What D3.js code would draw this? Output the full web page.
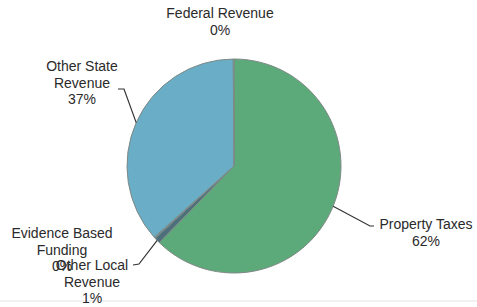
<!DOCTYPE html>
<html>
<head>
<meta charset="utf-8">
<script src="https://cdn.jsdelivr.net/npm/d3@7"></script>
<style>
body { margin: 0; background: #fff; }
text { font-family: "Liberation Sans", Arial, sans-serif; font-size: 14px; fill: #2a2a2a; }
</style>
</head>
<body>
<div id="chartWrapper"></div>
<script>
// slices, clockwise from 12 o'clock
var categories = ["Property Taxes", "Other Local Revenue", "Evidence Based Funding", "Other State Revenue", "Federal Revenue"];
var values = [62.3, 0.9, 0.2, 36.5, 0.1];
var colors = ["#5caa7a", "#4d6f7c", "#5d8fa0", "#69adc6", "#6aa8a0"];

// label lines and anchor positions for each slice label
var labelLines = [
    ["Property Taxes"],
    ["Other Local", "Revenue"],
    ["Evidence Based", "Funding"],
    ["Other State", "Revenue"],
    ["Federal Revenue"]
];
var labelPos = [[426, 229], [92, 270], [62, 238], [82, 71], [220, 18]];
var leaderEnd = [[374, 226], [133, 265], null, [118, 89], null];

var w = 477, h = 307;
var cx = 234, cy = 166, radius = 107;

var svg = d3.select("#chartWrapper").append("svg")
    .attr("width", w)
    .attr("height", h);

svg.append("line")
    .attr("x1", 0).attr("x2", w)
    .attr("y1", 301).attr("y2", 301)
    .style("stroke", "#ececec")
    .style("stroke-width", 1.5);

var data = categories.map(function(c, i){
    return {name: c, value: values[i], color: colors[i], lines: labelLines[i], pos: labelPos[i], end: leaderEnd[i]};
});

var pie = d3.pie()
    .sort(null)
    .value(function(d){ return d.value; });
var arc = d3.arc()
    .innerRadius(0)
    .outerRadius(radius);
var edgeArc = d3.arc()
    .innerRadius(radius)
    .outerRadius(radius);

var chart = svg.append("g")
    .attr("transform", "translate(" + cx + "," + cy + ")");

var arcs = pie(data);

chart.selectAll(".slice")
    .data(arcs)
    .enter()
    .append("path")
    .classed("slice", true)
    .attr("d", arc)
    .style("fill", function(d){ return d.data.color; })
    .style("stroke", "#7f8a86")
    .style("stroke-width", 1);

// leader lines
chart.selectAll(".leader")
    .data(arcs.filter(function(d){ return d.data.end; }))
    .enter()
    .append("polyline")
    .classed("leader", true)
    .attr("points", function(d){
        var p = edgeArc.centroid(d);
        var e = [d.data.end[0] - cx, d.data.end[1] - cy];
        var mid;
        if (d.data.name === "Other State Revenue") {
            mid = [e[0] + 6, e[1]];
        } else if (d.data.name === "Other Local Revenue") {
            mid = [e[0] + 6, e[1] - 1];
        } else {
            mid = [e[0] - 4, e[1]];
        }
        return [p, mid, e].map(function(q){ return q.join(","); }).join(" ");
    })
    .style("fill", "none")
    .style("stroke", "#333")
    .style("stroke-width", 1.2);

// labels
var labels = svg.selectAll(".label")
    .data(arcs)
    .enter()
    .append("text")
    .classed("label", true)
    .attr("text-anchor", "middle")
    .attr("x", function(d){ return d.data.pos[0]; })
    .attr("y", function(d){ return d.data.pos[1]; });

labels.each(function(d){
    var t = d3.select(this);
    var lines = d.data.lines.concat([Math.round(d.data.value) + "%"]);
    lines.forEach(function(l, i){
        t.append("tspan")
            .attr("x", d.data.pos[0])
            .attr("dy", i === 0 ? 0 : 16.5)
            .text(l);
    });
});
</script>
</body>
</html>
